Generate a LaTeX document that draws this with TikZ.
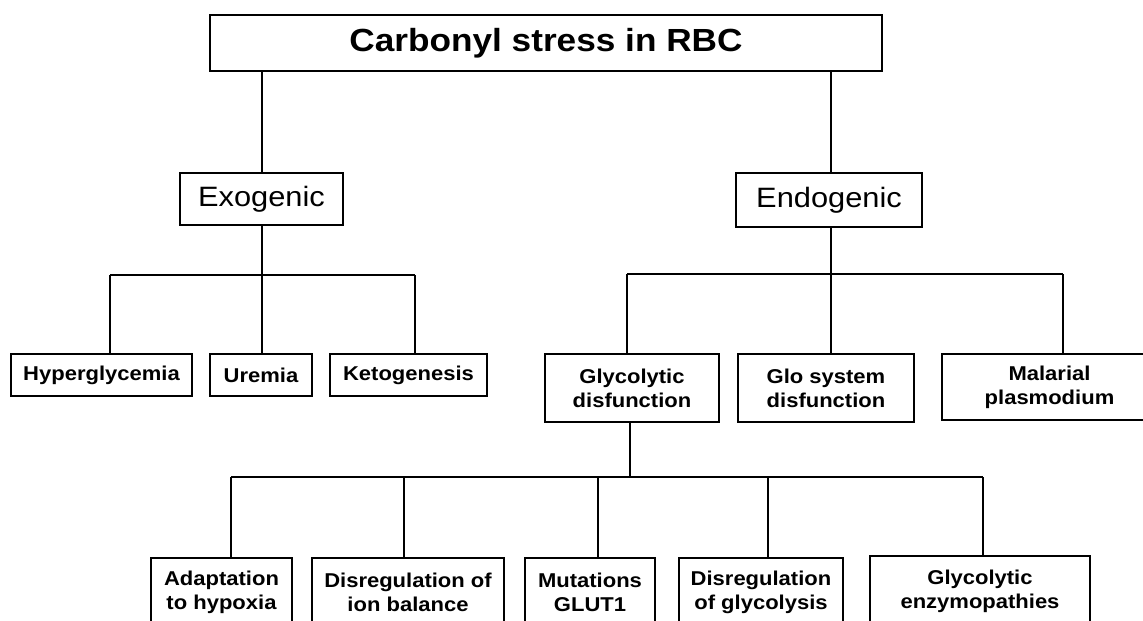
\documentclass[tikz,border=0pt]{standalone}
\usepackage{fontspec}
\setmainfont{Liberation Sans}[FakeStretch=1.1]
\usetikzlibrary{positioning}

\begin{document}
\begin{tikzpicture}[x=1pt,y=-1pt,line width=2.8pt,
    box/.style={draw,rectangle,inner sep=0pt,align=center},
    titlebox/.style={box,font=\fontsize{32}{38}\selectfont\bfseries},
    groupbox/.style={box,font=\fontsize{28}{32}\selectfont},
    leafbox/.style={box,font=\fontsize{20}{24}\selectfont\bfseries}]
  \clip (0,0) rectangle (1143,621);
  \node (carbonylStress)
        [titlebox,minimum width=672,minimum height=56]
        at (546,43) {Carbonyl stress in RBC};
  \node (exogenic)
        [groupbox,minimum width=163,minimum height=52]
        at (261.5,199) {Exogenic};
  \node (endogenic)
        [groupbox,minimum width=186,minimum height=54]
        at (829,200) {Endogenic};
  \node (hyperglycemia)
        [leafbox,minimum width=181,minimum height=42]
        at (101.5,375) {Hyperglycemia};
  \node (uremia)
        [leafbox,minimum width=102,minimum height=42]
        at (261,375) {Uremia};
  \node (ketogenesis)
        [leafbox,minimum width=157,minimum height=42]
        at (408.5,375) {Ketogenesis};
  \node (glycolyticDisf)
        [leafbox,minimum width=174,minimum height=68]
        at (632,388) {Glycolytic\\disfunction};
  \node (gloSystem)
        [leafbox,minimum width=176,minimum height=68]
        at (826,388) {Glo system\\disfunction};
  \node (malarial)
        [leafbox,minimum width=215,minimum height=66]
        at (1049.5,387) {Malarial\\plasmodium};
  \node (hypoxia)
        [leafbox,minimum width=141,minimum height=68]
        at (221.5,592) {Adaptation\\to hypoxia};
  \node (ionBalance)
        [leafbox,minimum width=192,minimum height=68]
        at (408,592) {Disregulation of\\ion balance};
  \node (glutOne)
        [leafbox,minimum width=130,minimum height=68]
        at (590,592) {Mutations\\GLUT1};
  \node (glycolysis)
        [leafbox,minimum width=164,minimum height=68]
        at (761,592) {Disregulation\\of glycolysis};
  \node (enzymopathies)
        [leafbox,minimum width=220,minimum height=70]
        at (980,591) {Glycolytic\\enzymopathies};

  \coordinate (exoLeft) at (110,275);
  \coordinate (exoMid) at (262,275);
  \coordinate (exoRight) at (415,275);
  \coordinate (endoLeft) at (627,274);
  \coordinate (endoMid) at (831,274);
  \coordinate (endoRight) at (1063,274);
  \coordinate (glyLeft) at (231,477);
  \coordinate (glyMid) at (630,477);
  \coordinate (glyIon) at (404,477);
  \coordinate (glyGlut) at (598,477);
  \coordinate (glyGlyc) at (768,477);
  \coordinate (glyRight) at (983,477);

  \draw (carbonylStress.south -| exoMid) -- (exoMid |- exogenic.north);
  \draw (carbonylStress.south -| endoMid) -- (endoMid |- endogenic.north);
  \draw (exoMid |- exogenic.south) -- (exoMid);
  \draw (exoLeft) -- (exoRight);
  \draw (exoLeft) -- (exoLeft |- hyperglycemia.north);
  \draw (exoMid) -- (exoMid |- uremia.north);
  \draw (exoRight) -- (exoRight |- ketogenesis.north);
  \draw (endoMid |- endogenic.south) -- (endoMid);
  \draw (endoLeft) -- (endoRight);
  \draw (endoLeft) -- (endoLeft |- glycolyticDisf.north);
  \draw (endoMid) -- (endoMid |- gloSystem.north);
  \draw (endoRight) -- (endoRight |- malarial.north);
  \draw (glyMid |- glycolyticDisf.south) -- (glyMid);
  \draw (glyLeft) -- (glyRight);
  \draw (glyLeft) -- (glyLeft |- hypoxia.north);
  \draw (glyIon) -- (glyIon |- ionBalance.north);
  \draw (glyGlut) -- (glyGlut |- glutOne.north);
  \draw (glyGlyc) -- (glyGlyc |- glycolysis.north);
  \draw (glyRight) -- (glyRight |- enzymopathies.north);
\end{tikzpicture}
\end{document}
